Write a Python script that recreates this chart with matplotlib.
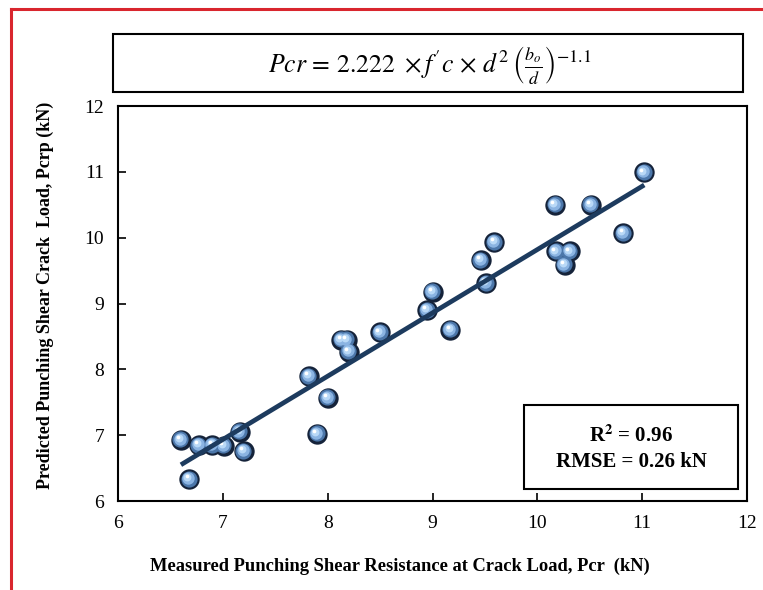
import numpy as np
import matplotlib
matplotlib.use("Agg")
import matplotlib.pyplot as plt
import matplotlib.transforms as mtransforms
from matplotlib.patches import Rectangle
from matplotlib.lines import Line2D

# Measured vs predicted punching shear crack load (kN)
measured = [6.60, 6.77, 6.90, 7.01, 7.16, 7.20, 6.68, 7.82, 8.00, 7.90,
            8.13, 8.18, 8.20, 8.50, 8.95, 9.00, 9.17, 9.46, 9.51, 9.59,
            10.17, 10.51, 11.02, 10.82, 10.18, 10.31, 10.26]
predicted = [6.93, 6.85, 6.85, 6.84, 7.05, 6.76, 6.33, 7.90, 7.57, 7.02,
             8.45, 8.45, 8.27, 8.56, 8.90, 9.18, 8.60, 9.66, 9.31, 9.93,
             10.50, 10.50, 10.99, 10.07, 9.79, 9.79, 9.59]

# trend line end points
trend_x = [6.60, 11.02]
trend_y = [6.55, 10.80]

ticks = [6, 7, 8, 9, 10, 11, 12]

plt.rcParams['font.family'] = ['Liberation Serif', 'DejaVu Serif']
plt.rcParams['mathtext.fontset'] = 'stix'

fig = plt.figure(figsize=(7.63, 5.90), dpi=100)
ax = fig.add_axes([118 / 763, 89 / 590, 629 / 763, 395 / 590])

# 3D-looking sphere markers built from stacked circles
layers = [(215, '#15233a', 0, 0),
          (135, '#4c77aa', -0.3, 0.3),
          (80, '#8bb4e2', -0.8, 0.8),
          (32, '#b9d9f7', -1.3, 1.3),
          (7, 'white', -2.0, 2.0)]
for i, (size, color, dx, dy) in enumerate(layers):
    tr = mtransforms.offset_copy(ax.transData, fig=fig, x=dx, y=dy, units='points')
    ax.scatter(measured, predicted, s=size, color=color, linewidths=0,
               transform=tr, zorder=3 + i * 0.1)

ax.plot(trend_x, trend_y, color='#1d3b5e', linewidth=3.4, solid_capstyle='butt', zorder=5)

ax.set_xlim(6, 12)
ax.set_ylim(6, 12)
ax.set_xticks(ticks)
ax.set_yticks(ticks)
ax.tick_params(direction='in', length=6, width=1.2, labelsize=14, pad=10)
for s in ax.spines.values():
    s.set_linewidth(1.5)

ax.set_xlabel("Measured Punching Shear Resistance at Crack Load, Pcr  (kN)",
              fontsize=13.3, fontweight='bold')
ax.xaxis.set_label_coords((400 - 118) / 629, -(558 - 501) / 395)
ax.set_ylabel("Predicted Punching Shear Crack  Load, Pcrp (kN)",
              fontsize=13.0, fontweight='bold')
ax.yaxis.set_label_coords(-(118 - 54) / 629, (501 - 295) / 395)

# R2 / RMSE box
r2box = Rectangle(((524 - 118) / 629, (501 - 489) / 395), (738 - 524) / 629, (489 - 405) / 395,
                  transform=ax.transAxes, fill=False, edgecolor='black', linewidth=1.5, zorder=6)
ax.add_patch(r2box)
ax.text((631 - 118) / 629, (501 - 436) / 395, r"R$^\mathbf{2}$ = 0.96", transform=ax.transAxes,
        ha='center', va='center', fontsize=15, fontweight='bold', zorder=7)
ax.text((631 - 118) / 629, (501 - 462) / 395, "RMSE = 0.26 kN", transform=ax.transAxes,
        ha='center', va='center', fontsize=15, fontweight='bold', zorder=7)

# equation box above the axes
fig.patches.append(Rectangle((113 / 763, (590 - 92) / 590), (743 - 113) / 763, (92 - 34) / 590,
                             transform=fig.transFigure, fill=False, edgecolor='black', linewidth=1.5))
fig.text(430 / 763, (590 - 66) / 590,
         r"$Pcr\, =\, 2.222\ \times f'c\, \times\, d^2\, \left(\frac{b_o}{d}\right)^{-1.1}$",
         ha='center', va='center', fontsize=18.5)

# red frame on the left and top
fig.add_artist(Line2D([11 / 763, 11 / 763], [0, (590 - 9) / 590], transform=fig.transFigure,
                      color='#d9262e', linewidth=2.2))
fig.add_artist(Line2D([11 / 763, 1], [(590 - 9) / 590, (590 - 9) / 590], transform=fig.transFigure,
                      color='#d9262e', linewidth=2.2))

fig.savefig("out.png", dpi=100)
